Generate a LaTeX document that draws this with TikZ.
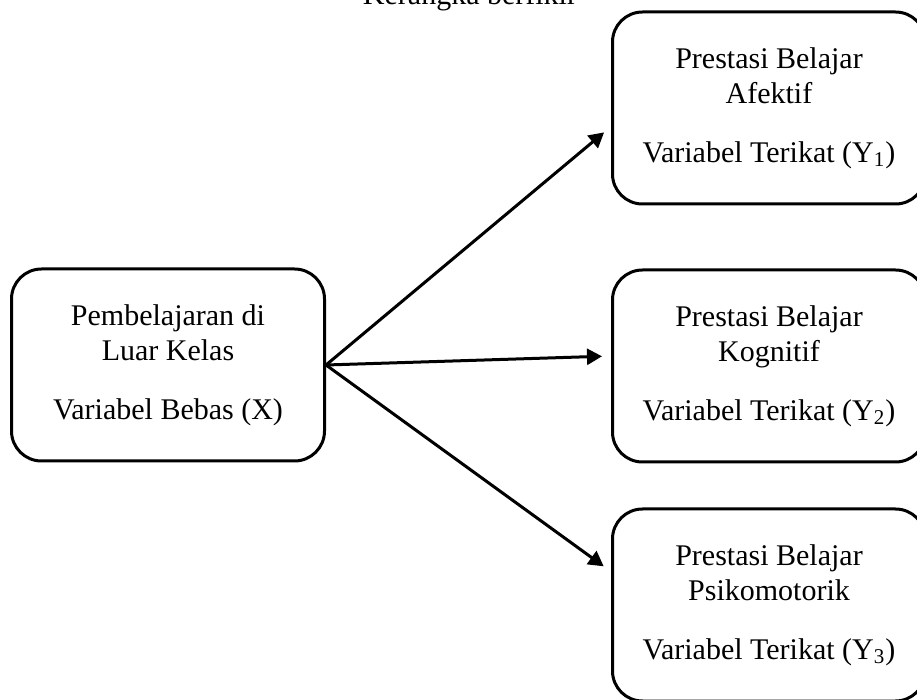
\documentclass[tikz,border=0pt]{standalone}
\usepackage{fontspec}
\setmainfont{Liberation Serif}
\usetikzlibrary{arrows.meta}

\begin{document}
\begin{tikzpicture}[x=0.5pt,y=-0.5pt,
    varbox/.style={draw,line width=1.5pt,rounded corners=15pt,
      minimum width=156.5pt,minimum height=96pt,align=center,
      font=\fontsize{15}{17.5}\selectfont},
    panah/.style={line width=1.5pt,-{Triangle[length=7.5pt,width=8pt]},shorten >=4.5pt}]
  \useasboundingbox (0,0) rectangle (917,700);

  % Title (cut off at the top edge)
  \node[anchor=base,font=\fontsize{15}{17.5}\selectfont] (judul) at (470,5) {Kerangka berfikir};

  % Variable boxes
  \node[varbox] (bebas) at (168,365) {Pembelajaran di\\Luar Kelas\\[12pt]Variabel Bebas (X)};
  \node[varbox] (afektif) at (769,108) {Prestasi Belajar\\Afektif\\[12pt]Variabel Terikat (Y\textsubscript{1})};
  \node[varbox] (kognitif) at (769,366) {Prestasi Belajar\\Kognitif\\[12pt]Variabel Terikat (Y\textsubscript{2})};
  \node[varbox] (psikomotor) at (769,605) {Prestasi Belajar\\Psikomotorik\\[12pt]Variabel Terikat (Y\textsubscript{3})};

  % Arrows
  \draw[panah] (bebas.east) -- ([yshift=-9.3pt]afektif.west);
  \draw[panah] (bebas.east) -- ([yshift=5pt]kognitif.west);
  \draw[panah] (bebas.east) -- ([yshift=16.7pt]psikomotor.west);
\end{tikzpicture}
\end{document}
